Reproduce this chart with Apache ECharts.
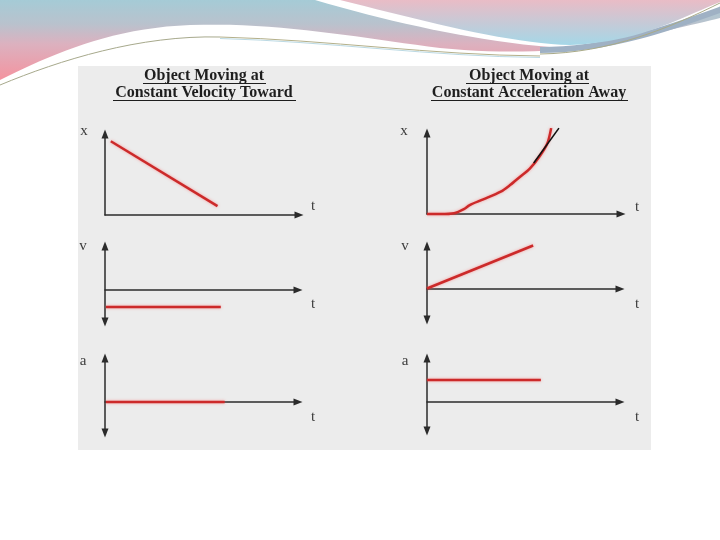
<!DOCTYPE html>
<html>
<head>
<meta charset="utf-8">
<style>
  html, body { margin: 0; padding: 0; background: #fff; }
  #main { width: 720px; height: 540px; }
</style>
<script src="https://cdn.jsdelivr.net/npm/echarts@6/dist/echarts.min.js"></script>
</head>
<body>
<div id="main"></div>
<script>
// values, time axis runs 0..10 in every panel
var velPos = [[0.3, 9.1], [5.8, 1.1]];
var velVel = [[0.05, -1.7], [6.0, -1.7]];
var velAcc = [[0.05, 0], [6.2, 0]];
var accPos = [[0, 0], [0.7, 0], [1.4, 0.1], [1.9, 0.6], [2.2, 1.1], [2.9, 1.8], [3.8, 2.75],
  [4.3, 3.6], [4.8, 4.6], [5.3, 5.6], [5.8, 7.1], [6.2, 8.7], [6.4, 10.6]];
var accTangent = [[5.5, 6.3], [6.8, 10.6]];
var accVel = [[0, 0.05], [5.5, 4.35]];
var accAcc = [[0, 2.2], [5.9, 2.2]];

var titleLines = [
  ['Object Moving at', 'Constant Velocity Toward'],
  ['Object Moving at', 'Constant Acceleration Away']
];
var yNames = ['x', 'v', 'a'];
var xName = 't';
var yRanges = [[0, 10], [-3.2, 4.4], [-3.1, 4.4], [0, 10], [-3.1, 4.3], [-2.9, 4.4]];

var chart = echarts.init(document.getElementById('main'));

var grids = [
  { left: 105, top: 134, width: 194, height: 81 },
  { left: 105, top: 246, width: 193, height: 76 },
  { left: 105, top: 358, width: 193, height: 75 },
  { left: 427, top: 133, width: 194, height: 81 },
  { left: 427, top: 246, width: 193, height: 74 },
  { left: 427, top: 358, width: 193, height: 73 }
];

var axisColor = '#2b2b2b';
var red = '#cc2a2a';

var xAxes = [];
var yAxes = [];
grids.forEach(function (g, i) {
  xAxes.push({
    type: 'value', gridIndex: i, min: 0, max: 10,
    axisLine: { show: true, onZero: true, symbol: ['none', 'triangle'], symbolSize: [7, 9],
      lineStyle: { color: axisColor, width: 1.5 } },
    axisTick: { show: false }, axisLabel: { show: false }, splitLine: { show: false }
  });
  var both = (i % 3) !== 0;
  yAxes.push({
    type: 'value', gridIndex: i, min: yRanges[i][0], max: yRanges[i][1],
    axisLine: { show: true, onZero: true, symbol: both ? ['triangle', 'triangle'] : ['none', 'triangle'],
      symbolSize: [7, 9], lineStyle: { color: axisColor, width: 1.5 } },
    axisTick: { show: false }, axisLabel: { show: false }, splitLine: { show: false }
  });
});

function redLine(idx, data, smooth) {
  return {
    type: 'line', xAxisIndex: idx, yAxisIndex: idx, data: data,
    showSymbol: false, smooth: smooth || false, clip: false, z: 3,
    lineStyle: { color: red, width: 2.5, shadowColor: 'rgba(255,90,90,0.55)', shadowBlur: 3 }
  };
}

var series = [
  redLine(0, velPos),
  redLine(1, velVel),
  redLine(2, velAcc),
  redLine(3, accPos, 0.3),
  {
    type: 'line', xAxisIndex: 3, yAxisIndex: 3, data: accTangent,
    showSymbol: false, clip: false, z: 4,
    lineStyle: { color: '#111', width: 1.6 }
  },
  redLine(4, accVel),
  redLine(5, accAcc)
];

// header decoration helpers
function bez(p0, p1, p2, p3, n) {
  var pts = [];
  for (var k = 0; k <= n; k++) {
    var t = k / n, u = 1 - t;
    pts.push([
      u * u * u * p0[0] + 3 * u * u * t * p1[0] + 3 * u * t * t * p2[0] + t * t * t * p3[0],
      u * u * u * p0[1] + 3 * u * u * t * p1[1] + 3 * u * t * t * p2[1] + t * t * t * p3[1]
    ]);
  }
  return pts;
}

var leftEdge = [].concat(
  bez([0, 80], [50, 55], [110, 28], [190, 25], 20),
  bez([190, 25], [280, 22], [360, 38], [440, 48], 20),
  bez([440, 48], [520, 56], [600, 50], [650, 35], 20),
  bez([650, 35], [680, 27], [705, 22], [720, 18], 10)
);
var leftShape = [[0, 0]].concat(leftEdge, [[720, 0]]);

var whiteShape = [[315, -1]].concat(
  bez([315, 0], [400, 25], [490, 44], [575, 49], 20),
  bez([575, 49], [620, 50], [680, 28], [720, 8], 20),
  [[720, -1]]
);

var rightShape = [[340, -1], [720, -1]].concat(
  bez([720, 2], [680, 18], [640, 42], [570, 45], 20),
  bez([570, 45], [510, 44], [420, 20], [340, 0], 20)
);

var graphics = [
  { type: 'polygon', z: 0, shape: { points: leftShape },
    style: { fill: new echarts.graphic.LinearGradient(0, 0, 0, 80, [
      { offset: 0, color: '#a5cbd6' }, { offset: 0.3, color: '#b9c2cd' },
      { offset: 0.55, color: '#dcb1bf' }, { offset: 1, color: '#f4939f' }], true) } },
  { type: 'bezierCurve', z: 1, shape: { x1: 0, y1: 85, cpx1: 60, cpy1: 60, cpx2: 140, cpy2: 35, x2: 220, y2: 37 },
    style: { stroke: '#a7a98c', lineWidth: 1, fill: null } },
  { type: 'bezierCurve', z: 1, shape: { x1: 220, y1: 37, cpx1: 330, cpy1: 40, cpx2: 430, cpy2: 55, x2: 540, y2: 56 },
    style: { stroke: '#b4b08a', lineWidth: 1, fill: null } },
  { type: 'bezierCurve', z: 1, shape: { x1: 220, y1: 38.5, cpx1: 330, cpy1: 41.5, cpx2: 430, cpy2: 56.5, x2: 540, y2: 57.5 },
    style: { stroke: '#a9cfdc', lineWidth: 0.8, fill: null } },
  { type: 'polygon', z: 2, shape: { points: whiteShape }, style: { fill: '#ffffff' } },
  { type: 'bezierCurve', z: 3, shape: { x1: 540, y1: 50, cpx1: 610, cpy1: 50, cpx2: 675, cpy2: 26, x2: 722, y2: 9 },
    style: { stroke: '#9fb1c4', lineWidth: 6, fill: null } },
  { type: 'bezierCurve', z: 3, shape: { x1: 540, y1: 54, cpx1: 610, cpy1: 53, cpx2: 670, cpy2: 28, x2: 722, y2: 2 },
    style: { stroke: '#a9aa88', lineWidth: 1, fill: null } },
  { type: 'polygon', z: 4, shape: { points: rightShape },
    style: { fill: new echarts.graphic.LinearGradient(0, 0, 0, 46, [
      { offset: 0, color: '#e9bcc6' }, { offset: 1, color: '#a3d8e8' }], true) } },
  { type: 'rect', z: 0, shape: { x: 78, y: 66, width: 573, height: 384 }, style: { fill: '#ececec' } }
];

// titles with underlines
var titleCenters = [204, 529];
var underlineSpans = [[[143, 266], [113, 296]], [[466, 589], [431, 628]]];
titleLines.forEach(function (lines, c) {
  lines.forEach(function (txt, r) {
    graphics.push({
      type: 'text', z: 5, x: titleCenters[c], y: 76 + r * 16.5,
      style: { text: txt, font: 'bold 16px "Liberation Serif"', fill: '#1e1e1e',
        align: 'center', verticalAlign: 'middle' }
    });
    var sp = underlineSpans[c][r];
    graphics.push({
      type: 'line', z: 5,
      shape: { x1: sp[0], y1: 83.5 + r * 17, x2: sp[1], y2: 83.5 + r * 17 },
      style: { stroke: '#1e1e1e', lineWidth: 1.2 }
    });
  });
});

// axis letters
var yNamePos = [[84, 131], [83, 246], [83, 361], [404, 131], [405, 246], [405, 361]];
var xNamePos = [[313, 206], [313, 304], [313, 417], [637, 207], [637, 304], [637, 417]];
yNamePos.forEach(function (p, i) {
  graphics.push({
    type: 'text', z: 5, x: p[0], y: p[1],
    style: { text: yNames[i % 3], font: '15px "Liberation Serif"', fill: '#3c3c3c',
      align: 'center', verticalAlign: 'middle' }
  });
});
xNamePos.forEach(function (p) {
  graphics.push({
    type: 'text', z: 5, x: p[0], y: p[1],
    style: { text: xName, font: '15px "Liberation Serif"', fill: '#3c3c3c',
      align: 'center', verticalAlign: 'middle' }
  });
});

var option = {
  animation: false,
  backgroundColor: '#ffffff',
  graphic: { elements: graphics },
  grid: grids,
  xAxis: xAxes,
  yAxis: yAxes,
  series: series
};
chart.setOption(option);
</script>
</body>
</html>
